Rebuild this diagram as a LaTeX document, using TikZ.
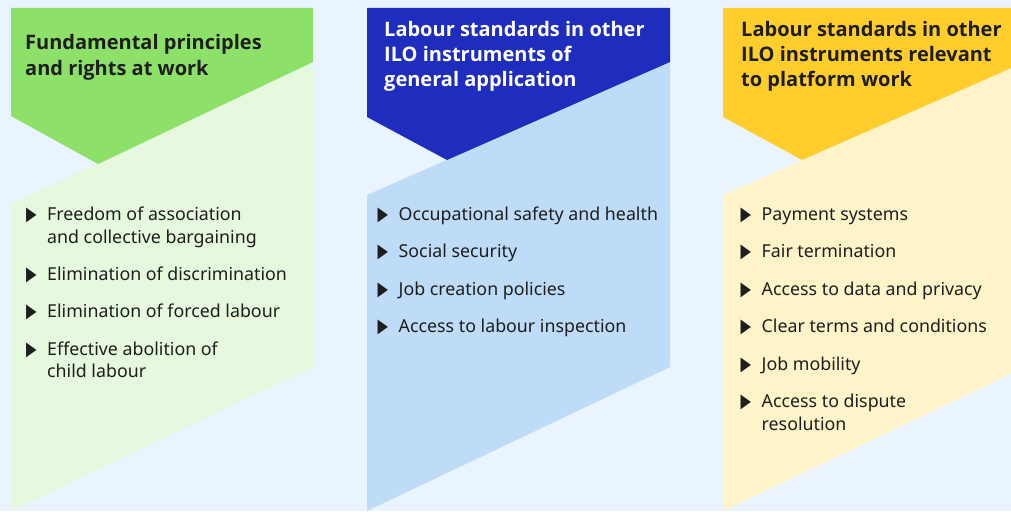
\documentclass[tikz,border=0pt]{standalone}
\usepackage{fontspec}
\setmainfont{Noto Sans}
\newfontfamily\headfont{Open Sans}
\newfontfamily\symfont{DejaVu Sans}
\usepackage{tikz}
\usetikzlibrary{positioning}

\definecolor{ilobg}{RGB}{234,244,254}
\definecolor{ilotext}{RGB}{30,30,30}
\definecolor{ilogreen}{RGB}{141,224,104}
\definecolor{ilogreenbg}{RGB}{230,248,222}
\definecolor{iloblue}{RGB}{30,45,190}
\definecolor{ilobluebg}{RGB}{190,220,248}
\definecolor{iloyellow}{RGB}{255,206,45}
\definecolor{iloyellowbg}{RGB}{255,244,201}

\newcommand{\tri}{\makebox[21pt][l]{\symfont\fontsize{19.5}{19.5}\selectfont\scalebox{0.7}[1]{▶}}}
\newcommand{\bul}[1]{\begin{tabular}[t]{@{}l@{}l@{}}\tri & #1\end{tabular}}
\newcommand{\hd}[1]{\begin{tabular}[t]{@{}l@{}}#1\end{tabular}}

\begin{document}
\begin{tikzpicture}[x=1pt, y=-1pt,
    head/.style={anchor=base west, inner sep=0pt, text=ilotext,
                 font=\headfont\fontsize{20}{25}\selectfont\bfseries},
    item/.style={anchor=base west, inner sep=0pt, text=ilotext,
                 font=\fontsize{17.8}{22.5}\selectfont}
  ]
    \clip (0,0) rectangle (1011,511);
    \fill[ilobg] (0,0) rectangle (1011,511);
    % green column
    \fill[ilogreenbg] (11,204) -- (313,62) -- (313,367) -- (11,511) -- cycle;
    \fill[ilogreen] (11,8) -- (313,8) -- (313,62) -- (98,164) -- (11,116) -- cycle;
    % blue column
    \fill[ilobluebg] (367,195) -- (670,62) -- (670,367) -- (367,511) -- cycle;
    \fill[iloblue] (367,8) -- (670,8) -- (670,62) -- (447,160) -- (367,117) -- cycle;
    % yellow column
    \fill[iloyellowbg] (723,195) -- (1025,62) -- (1025,367) -- (723,511) -- cycle;
    \fill[iloyellow] (723,8) -- (1025,8) -- (1025,62) -- (802,160) -- (723,117) -- cycle;

    \node[head] (t1) at (25,50) {\hd{Fundamental principles\\ and rights at work}};
    \node[head, text=white] (t2) at (384,37) {\hd{Labour standards in other\\ ILO instruments of\\ general application}};
    \node[head] (t3) at (741,37) {\hd{Labour standards in other\\ ILO instruments relevant\\ to platform work}};

    \node[item] (g1) at (26,220.5) {\bul{Freedom of association\\ & and collective bargaining}};
    \node[item, below=59.5pt of g1.base west, anchor=base west] (g2) {\bul{Elimination of discrimination}};
    \node[item, below=37.5pt of g2.base west, anchor=base west] (g3) {\bul{Elimination of forced labour}};
    \node[item, below=37.5pt of g3.base west, anchor=base west] (g4) {\bul{Effective abolition of\\ & child labour}};

    \node[item] (b1) at (377.5,220) {\bul{Occupational safety and health}};
    \node[item, below=37.5pt of b1.base west, anchor=base west] (b2) {\bul{Social security}};
    \node[item, below=37.5pt of b2.base west, anchor=base west] (b3) {\bul{Job creation policies}};
    \node[item, below=37.5pt of b3.base west, anchor=base west] (b4) {\bul{Access to labour inspection}};

    \node[item] (y1) at (740.5,220) {\bul{Payment systems}};
    \node[item, below=37.5pt of y1.base west, anchor=base west] (y2) {\bul{Fair termination}};
    \node[item, below=37.5pt of y2.base west, anchor=base west] (y3) {\bul{Access to data and privacy}};
    \node[item, below=37.5pt of y3.base west, anchor=base west] (y4) {\bul{Clear terms and conditions}};
    \node[item, below=37.5pt of y4.base west, anchor=base west] (y5) {\bul{Job mobility}};
    \node[item, below=37.5pt of y5.base west, anchor=base west] (y6) {\bul{Access to dispute\\ & resolution}};
\end{tikzpicture}
\end{document}
